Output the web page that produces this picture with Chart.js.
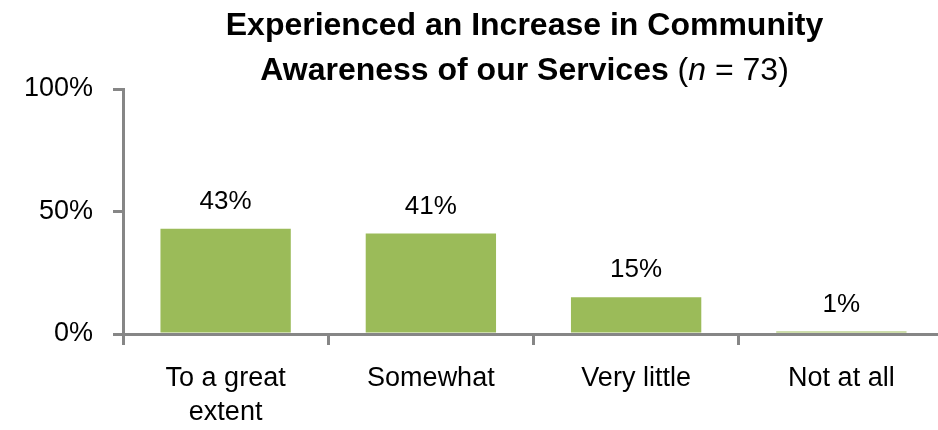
<!DOCTYPE html>
<html>
<head>
<meta charset="utf-8">
<script src="https://cdn.jsdelivr.net/npm/chart.js@4.4.1/dist/chart.umd.min.js"></script>
<style>
  html, body { margin: 0; padding: 0; background: #ffffff; overflow: hidden; }
  #chart { display: block; }
</style>
</head>
<body>
<!-- a few px wider than the window so the last category runs off the right edge -->
<canvas id="chart" width="944" height="430"></canvas>
<script>
const categories = [['To a great', 'extent'], 'Somewhat', 'Very little', 'Not at all'];
const percentages = [43, 41, 15, 1];
const yTicks = [0, 50, 100];

const titleLine1 = 'Experienced an Increase in Community';
const titleLine2 = [
  { text: 'Awareness of our Services ', style: 'bold' },
  { text: '(', style: 'normal' },
  { text: 'n', style: 'italic' },
  { text: ' = 73)', style: 'normal' }
];

const barColor = '#9BBB59';
const axisColor = '#868686';
const labelFont = '"Liberation Sans", Arial, sans-serif';
const titleFont = '"Liberation Sans", Arial, sans-serif';

// two-line title, the second line mixes bold / regular / italic runs
const titlePlugin = {
  id: 'mixedTitle',
  afterDraw(chart) {
    const ctx = chart.ctx;
    const area = chart.chartArea;
    const cx = (area.left + area.right) / 2 - 9;
    const size = 32;
    const fontFor = style => {
      if (style === 'italic') return 'italic ' + size + 'px ' + titleFont;
      return style + ' ' + size + 'px ' + titleFont;
    };
    ctx.save();
    ctx.fillStyle = '#000';
    ctx.textBaseline = 'alphabetic';
    ctx.textAlign = 'center';
    ctx.font = fontFor('bold');
    ctx.fillText(titleLine1, cx, 35);

    ctx.textAlign = 'left';
    let total = 0;
    titleLine2.forEach(run => {
      ctx.font = fontFor(run.style);
      run.w = ctx.measureText(run.text).width;
      total += run.w;
    });
    let x = cx - total / 2;
    titleLine2.forEach(run => {
      ctx.font = fontFor(run.style);
      ctx.fillText(run.text, x, 80);
      x += run.w;
    });
    ctx.restore();
  }
};

// value labels above each bar
const valueLabels = {
  id: 'valueLabels',
  afterDatasetsDraw(chart) {
    const ctx = chart.ctx;
    const meta = chart.getDatasetMeta(0);
    ctx.save();
    ctx.fillStyle = '#000';
    ctx.font = '26px ' + labelFont;
    ctx.textAlign = 'center';
    ctx.textBaseline = 'alphabetic';
    meta.data.forEach((bar, i) => {
      ctx.fillText(percentages[i] + '%', bar.x, bar.y - 20);
    });
    ctx.restore();
  }
};

new Chart(document.getElementById('chart'), {
  type: 'bar',
  data: {
    labels: categories,
    datasets: [{
      data: percentages,
      backgroundColor: barColor,
      borderWidth: 0,
      categoryPercentage: 1,
      barPercentage: 0.635
    }]
  },
  options: {
    responsive: false,
    animation: false,
    layout: { padding: { top: 89, right: 0, left: 0, bottom: 0 } },
    plugins: {
      legend: { display: false },
      tooltip: { enabled: false },
      title: { display: false }
    },
    scales: {
      x: {
        grid: {
          drawOnChartArea: false,
          drawTicks: true,
          tickLength: 11,
          color: axisColor,
          lineWidth: 3
        },
        border: { color: axisColor, width: 3 },
        ticks: {
          color: '#000',
          padding: 17,
          maxRotation: 0,
          font: { family: labelFont, size: 27, lineHeight: 1.26 }
        },
        afterFit(scale) { scale.height = 96; }
      },
      y: {
        min: 0,
        max: 100,
        afterBuildTicks(scale) {
          scale.ticks = yTicks.map(v => ({ value: v }));
        },
        grid: {
          drawOnChartArea: false,
          drawTicks: true,
          tickLength: 10,
          color: axisColor,
          lineWidth: 3
        },
        border: { color: axisColor, width: 3 },
        ticks: {
          color: '#000',
          padding: 20,
          font: { family: labelFont, size: 27 },
          callback: v => v + '%'
        },
        afterFit(scale) { scale.width = 123; }
      }
    }
  },
  plugins: [titlePlugin, valueLabels]
});
</script>
</body>
</html>
